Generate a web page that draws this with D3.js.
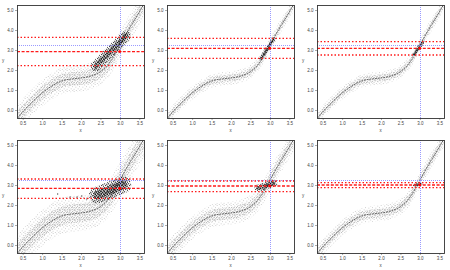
<!DOCTYPE html>
<html>
<head>
<meta charset="utf-8">
<script src="https://cdn.jsdelivr.net/npm/d3@7"></script>
<style>
  body { margin: 0; background: #fff; }
  text { font-family: "Liberation Sans", Arial, sans-serif; }
</style>
</head>
<body>
<script>
// true curve (x, y)
var curveX = [0.35, 0.5, 0.75, 1.0, 1.25, 1.5, 1.75, 2.0, 2.25, 2.5, 2.75, 3.0, 3.25, 3.5, 3.65];
var curveY = [-0.45, -0.1, 0.4, 0.85, 1.2, 1.45, 1.55, 1.6, 1.7, 1.92, 2.4, 3.25, 4.1, 4.9, 5.4];

// spread of the grey cloud around the curve, per panel (y units)
var outerSpread = [0.66, 0.34, 0.32, 0.9, 0.58, 0.4];
var innerSpread = [0.34, 0.18, 0.17, 0.46, 0.3, 0.21];

// black cluster along its main axis: start x/y, end x/y, half width (y units)
var clusterX0 = [2.38, 2.77, 2.85, 2.42, 2.7, 2.86];
var clusterY0 = [2.2, 2.58, 2.78, 2.5, 2.85, 2.99];
var clusterX1 = [3.15, 3.1, 3.08, 3.08, 3.1, 3.03];
var clusterY1 = [3.7, 3.55, 3.4, 3.0, 3.08, 3.06];
var clusterHalf = [0.26, 0.1, 0.09, 0.42, 0.18, 0.08];

// stray black points in panel 4
var strayX = [1.4, 1.72, 1.9, 2.02, 2.15];
var strayY = [2.55, 2.4, 2.4, 2.45, 2.3];

// reference lines per panel
var trueX = 3.0;
var trueY = [3.25, 3.25, 3.25, 3.25, 3.25, 3.25];
var estMid = [2.92, 3.08, 3.08, 2.83, 2.95, 3.0];
var estLo = [2.22, 2.58, 2.75, 2.33, 2.67, 2.87];
var estHi = [3.63, 3.58, 3.42, 3.3, 3.2, 3.12];

var xTicks = [0.5, 1.0, 1.5, 2.0, 2.5, 3.0, 3.5];
var yTicks = [0, 1, 2, 3, 4, 5];
var yTickLabels = ["0.0", "1.0", "2.0", "3.0", "4.0", "5.0"];

// layout
var pw = 150, ph = 135;
var pL = 17, pR = 144, pT = 5, pB = 118;
var fontSize = 4.5;

var curve = curveX.map(function(d, i) { return [d, curveY[i]]; });

var svg = d3.select("body").append("svg")
  .attr("width", 450)
  .attr("height", 270);

var defs = svg.append("defs");

// speckle textures for the point clouds
function speckle(id, size, dots, color, r) {
  var pat = defs.append("pattern")
    .attr("id", id)
    .attr("patternUnits", "userSpaceOnUse")
    .attr("width", size)
    .attr("height", size);
  dots.forEach(function(d) {
    pat.append("rect")
      .attr("x", d[0]).attr("y", d[1])
      .attr("width", r).attr("height", r)
      .attr("fill", color);
  });
}
speckle("sparse", 7, [[0.3, 0.6], [3.7, 0.1], [2.0, 2.2], [5.4, 2.7], [0.7, 4.4], [3.6, 4.8], [5.9, 6.1], [2.3, 6.2]], "#c6c6c6", 0.9);
speckle("dense", 5, [[0.2, 0.4], [2.0, 0.9], [3.8, 0.2], [1.1, 2.1], [2.9, 2.5], [4.3, 2.0], [0.4, 3.6], [2.2, 4.1], [3.9, 3.9]], "#b0b0b0", 0.9);
speckle("blackSparse", 4, [[0.1, 0.3], [2.3, 0.8], [1.2, 2.1], [3.1, 2.7]], "#000", 1.0);
speckle("blackDense", 3, [[0.1, 0.2], [1.7, 0.6], [0.8, 1.6], [2.2, 2.1]], "#000", 1.0);

for (var p = 0; p < 6; p++) {
  var col = p % 3, row = Math.floor(p / 3);
  var g = svg.append("g")
    .attr("transform", "translate(" + (col * pw) + "," + (row * ph) + ")");

  var x = d3.scaleLinear().domain([0.3534, 3.621]).range([pL, pR]);
  var y = d3.scaleLinear().domain([-0.4, 5.25]).range([pB, pT]);
  var snap = function(v) { return Math.round(v) + 0.5; };

  var clipId = "clip" + p;
  defs.append("clipPath").attr("id", clipId)
    .append("rect")
    .attr("x", pL).attr("y", pT)
    .attr("width", pR - pL).attr("height", pB - pT);

  var plot = g.append("g").attr("clip-path", "url(#" + clipId + ")");

  // grey cloud
  [[outerSpread[p], "url(#sparse)"], [innerSpread[p], "url(#dense)"]].forEach(function(b) {
    var area = d3.area()
      .x(function(d) { return x(d[0]); })
      .y0(function(d) { return y(d[1] - b[0]); })
      .y1(function(d) { return y(d[1] + b[0]); })
      .curve(d3.curveMonotoneX);
    plot.append("path")
      .attr("d", area(curve))
      .attr("fill", b[1]);
  });

  // true curve
  plot.append("path")
    .attr("d", d3.line()
      .x(function(d) { return x(d[0]); })
      .y(function(d) { return y(d[1]); })
      .curve(d3.curveMonotoneX)(curve))
    .attr("fill", "none")
    .attr("stroke", "#333")
    .attr("stroke-width", 0.7)
    .attr("stroke-dasharray", "2,0.8");

  // black cluster
  var k = y(0) - y(clusterHalf[p]);
  [[2 * k, "url(#blackSparse)"], [k, "url(#blackDense)"]].forEach(function(c) {
    plot.append("line")
      .attr("x1", x(clusterX0[p])).attr("y1", y(clusterY0[p]))
      .attr("x2", x(clusterX1[p])).attr("y2", y(clusterY1[p]))
      .attr("stroke", c[1])
      .attr("stroke-width", c[0])
      .attr("stroke-linecap", "round");
  });

  if (p == 3) {
    plot.selectAll("stray")
      .data(strayX)
      .enter()
      .append("rect")
      .attr("x", function(d) { return x(d) - 0.5; })
      .attr("y", function(d, i) { return y(strayY[i]) - 0.5; })
      .attr("width", 1).attr("height", 1)
      .attr("fill", "#000");
  }

  // reference lines
  plot.append("line")
    .attr("x1", snap(x(trueX))).attr("x2", snap(x(trueX)))
    .attr("y1", pT).attr("y2", pB)
    .attr("stroke", "#8080ff").attr("stroke-width", 0.8)
    .attr("stroke-dasharray", "1,1");
  plot.append("line")
    .attr("x1", pL).attr("x2", pR)
    .attr("y1", snap(y(trueY[p]))).attr("y2", snap(y(trueY[p])))
    .attr("stroke", "#8080ff").attr("stroke-width", 0.8)
    .attr("stroke-dasharray", "1,1");

  [[estLo[p], "1.5,2"], [estHi[p], "1.5,2"], [estMid[p], "3,1.6"]].forEach(function(r) {
    plot.append("line")
      .attr("x1", pL).attr("x2", pR)
      .attr("y1", y(r[0])).attr("y2", y(r[0]))
      .attr("stroke", "#ff1a1a").attr("stroke-width", 1.3)
      .attr("stroke-dasharray", r[1]);
  });

  plot.append("circle")
    .attr("cx", x(trueX)).attr("cy", y(estMid[p]))
    .attr("r", 1.4)
    .attr("fill", "#ff0000");

  // axes
  var xa = g.append("g")
    .attr("transform", "translate(0," + pB + ")")
    .call(d3.axisBottom(x).tickValues(xTicks).tickSize(2).tickPadding(2).tickFormat(d3.format(".1f")));
  var ya = g.append("g")
    .attr("transform", "translate(" + pL + ",0)")
    .call(d3.axisLeft(y).tickValues(yTicks).tickSize(2).tickPadding(1.5)
      .tickFormat(function(d, i) { return yTickLabels[i]; }));
  [xa, ya].forEach(function(a) {
    a.select(".domain").remove();
    a.selectAll("line").attr("stroke", "#555").attr("stroke-width", 0.5);
    a.selectAll("text").attr("font-size", fontSize).attr("fill", "#444");
  });

  g.append("rect")
    .attr("x", pL + 0.5).attr("y", pT + 0.5)
    .attr("width", pR - pL).attr("height", pB - pT)
    .attr("fill", "none")
    .attr("stroke", "#333")
    .attr("stroke-width", 0.9);

  g.append("text")
    .text("x")
    .attr("x", (pL + pR) / 2)
    .attr("y", 132)
    .attr("text-anchor", "middle")
    .attr("font-size", fontSize)
    .attr("fill", "#444");
  g.append("text")
    .text("y")
    .attr("x", 3)
    .attr("y", 62)
    .attr("text-anchor", "middle")
    .attr("font-size", fontSize)
    .attr("fill", "#444");
}
</script>
</body>
</html>
